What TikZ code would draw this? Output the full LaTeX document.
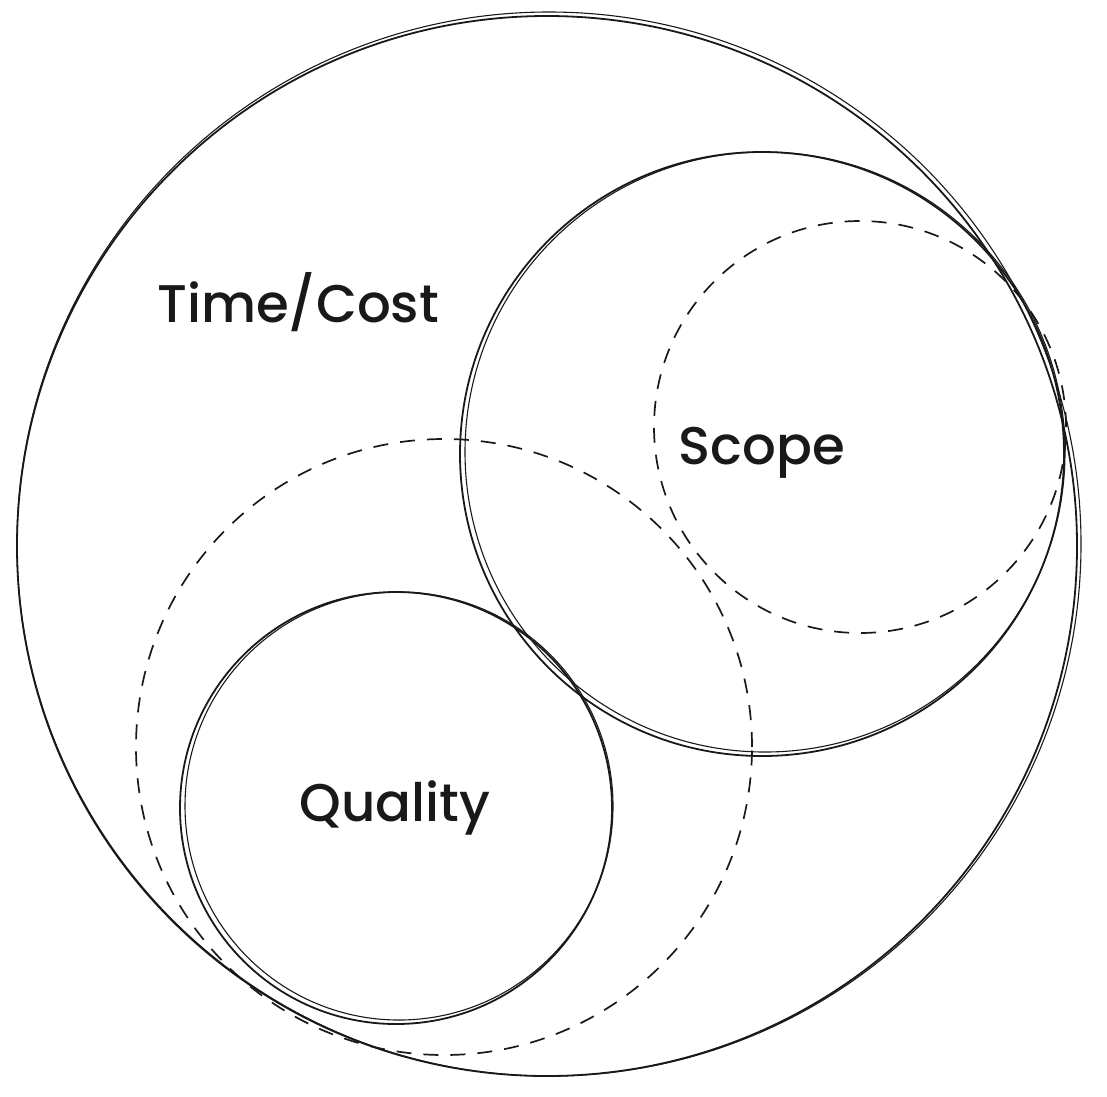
\documentclass[tikz,border=0pt]{standalone}
\usepackage{fontspec}
\setmainfont{Poppins}[UprightFont={* Medium}]
\begin{document}
\begin{tikzpicture}[x=1pt,y=-1pt,
  ring/.style={circle,draw=black!90,line width=1.8pt,inner sep=0pt},
  ringb/.style={circle,draw=black!90,line width=1.1pt,inner sep=0pt},
  dring/.style={circle,draw=black!90,line width=1.7pt,inner sep=0pt,dash pattern=on 15pt off 12pt},
  lbl/.style={font=\fontsize{53}{60}\selectfont,text=black!90}]
\useasboundingbox (0,0) rectangle (1107,1096);
% outer circle (Time/Cost)
\node[ring,minimum size=1060pt] (outer) at (547,546) {};
\node[ringb,minimum size=1064pt] (outerb) at (549,544) {};
% scope solid circle
\node[ring,minimum size=604pt] (scope) at (762,454) {};
\node[ringb,minimum size=600pt] (scopeb) at (765,452) {};
% scope dashed circle
\node[dring,minimum size=412pt] (scoped) at (860,427) {};
% large dashed circle
\node[dring,minimum size=616pt] (quald) at (444,747) {};
% quality solid circle
\node[ring,minimum size=432pt] (qual) at (396,808) {};
\node[ringb,minimum size=428pt] (qualb) at (399,806) {};
% labels
\node[lbl] (tc) at (298,302) {Time/Cost};
\node[lbl] (sc) at (762,453) {Scope};
\node[lbl] (ql) at (395,808) {Quality};
\end{tikzpicture}
\end{document}
